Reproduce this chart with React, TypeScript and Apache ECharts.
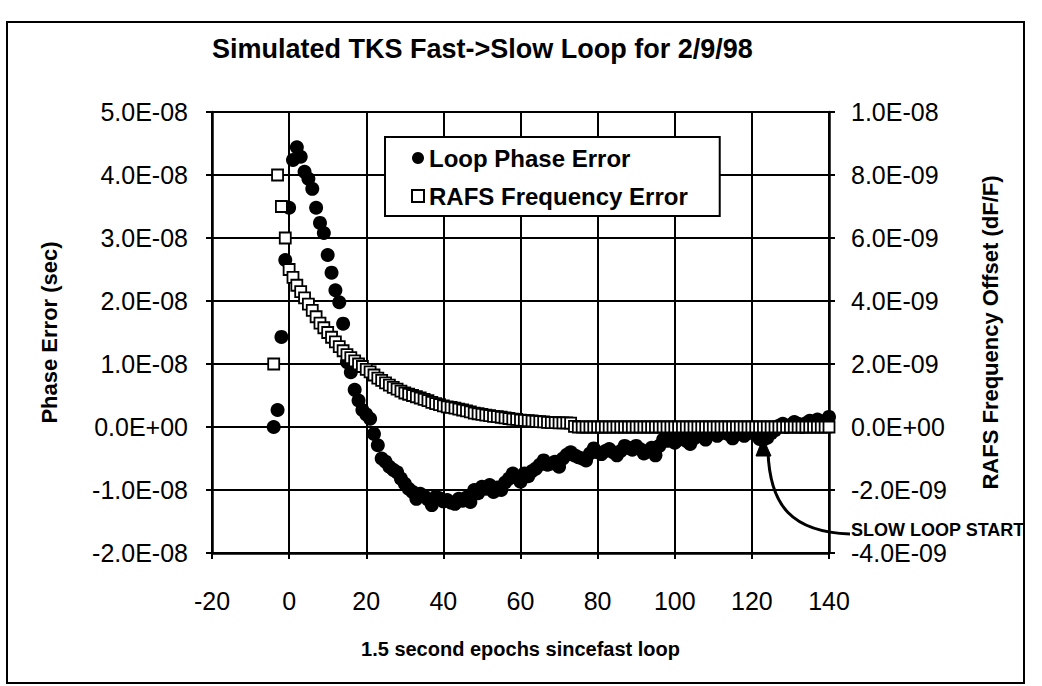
import React, { useEffect, useRef } from 'react';
import * as echarts from 'echarts';

// ---- data ----
const TITLE = 'Simulated TKS Fast->Slow Loop for 2/9/98';
const X_NAME = '1.5 second epochs sincefast loop';
const Y_LEFT_NAME = 'Phase Error (sec)';
const Y_RIGHT_NAME = 'RAFS Frequency Offset (dF/F)';
const SERIES_PHASE = 'Loop Phase Error';
const SERIES_RAFS = 'RAFS Frequency Error';
const ANNOTATION = 'SLOW LOOP START';

// first epoch of both series; one value per epoch
const EPOCH_START = -4;

// Loop phase error, in units of 1e-8 s (epochs -4 .. 140)
const PHASE_ERROR_E8 = [
  0.0, 0.27, 1.43, 2.65, 3.48, 4.24, 4.44, 4.29, 4.05, 3.94,
  3.78, 3.48, 3.24, 3.08, 2.73, 2.45, 2.17, 1.98, 1.64, 1.03,
  0.87, 0.59, 0.42, 0.27, 0.2, 0.13, -0.11, -0.29, -0.5, -0.55,
  -0.63, -0.68, -0.72, -0.82, -0.9, -0.98, -1.03, -1.14, -1.06, -1.1,
  -1.15, -1.24, -1.11, -1.13, -1.18, -1.16, -1.2, -1.22, -1.14, -1.17,
  -1.12, -1.19, -1.0, -1.05, -0.95, -0.98, -0.92, -1.03, -0.96, -1.0,
  -0.88, -0.82, -0.74, -0.8, -0.87, -0.74, -0.78, -0.7, -0.66, -0.6,
  -0.53, -0.6, -0.58, -0.55, -0.63, -0.5, -0.44, -0.4, -0.45, -0.48,
  -0.5, -0.53, -0.42, -0.34, -0.4, -0.43, -0.38, -0.35, -0.4, -0.45,
  -0.38, -0.3, -0.33, -0.36, -0.3, -0.35, -0.42, -0.38, -0.33, -0.45,
  -0.3, -0.2, -0.22, -0.18, -0.25, -0.2, -0.15, -0.22, -0.27, -0.18,
  -0.12, -0.15, -0.2, -0.1, -0.08, -0.14, -0.1, -0.06, -0.12, -0.18,
  -0.1, -0.08, -0.14, -0.1, -0.05, -0.12, -0.19, -0.2, -0.17, -0.1,
  -0.05, 0.02, 0.05, 0.0, 0.03, 0.08, 0.05, 0.0, 0.06, 0.1,
  0.05, 0.12, 0.08, 0.1, 0.16,
];

// RAFS frequency error, in units of 1e-9 (epochs -4 .. 140)
const RAFS_FREQ_E9 = [
  2.0, 8.0, 7.0, 6.0, 5.0, 4.75, 4.5, 4.3, 4.1, 3.9,
  3.7, 3.5, 3.3, 3.15, 3.0, 2.85, 2.7, 2.55, 2.42, 2.3,
  2.2, 2.1, 2.0, 1.92, 1.83, 1.75, 1.65, 1.55, 1.48, 1.4,
  1.33, 1.26, 1.2, 1.14, 1.08, 1.04, 1.0, 0.96, 0.92, 0.88,
  0.84, 0.78, 0.74, 0.71, 0.67, 0.64, 0.62, 0.6, 0.57, 0.54,
  0.51, 0.48, 0.44, 0.42, 0.4, 0.38, 0.36, 0.34, 0.33, 0.31,
  0.29, 0.27, 0.25, 0.24, 0.22, 0.21, 0.2, 0.19, 0.18, 0.17,
  0.16, 0.15, 0.14, 0.14, 0.13, 0.13, 0.13, 0.12, 0.02, 0.0,
  0, 0, 0, 0, 0, 0, 0, 0, 0, 0,
  0, 0, 0, 0, 0, 0, 0, 0, 0, 0,
  0, 0, 0, 0, 0, 0, 0, 0, 0, 0,
  0, 0, 0, 0, 0, 0, 0, 0, 0, 0,
  0, 0, 0, 0, 0, 0, 0, 0, 0, 0,
  0, 0, 0, 0, 0, 0, 0, 0, 0, 0,
  0, 0, 0, 0, 0,
];

const X_AXIS = { min: -20, max: 140, interval: 20 };
const Y_LEFT_AXIS = { min: -2, max: 5, interval: 1, unitExp: -8 };
const Y_RIGHT_AXIS = { min: -4, max: 10, interval: 2, unitExp: -9 };

const FONT = '"Liberation Sans", Arial, Helvetica, sans-serif';

function sci(x: number): string {
  if (Math.abs(x) < 1e-25) return '0.0E+00';
  let e = Math.floor(Math.log10(Math.abs(x)) + 1e-9);
  let ms = (x / Math.pow(10, e)).toFixed(1);
  if (Math.abs(parseFloat(ms)) >= 10) {
    e += 1;
    ms = (x / Math.pow(10, e)).toFixed(1);
  }
  const es = (e < 0 ? '-' : '+') + String(Math.abs(e)).padStart(2, '0');
  return ms + 'E' + es;
}

function labelIn(unitExp: number) {
  return (v: number) => sci(Math.round(v * 1000) / 1000 * Math.pow(10, unitExp));
}

export default function App() {
  const ref = useRef<HTMLDivElement>(null);

  useEffect(() => {
    if (!ref.current) return;
    const chart = echarts.init(ref.current, undefined, { renderer: 'svg' });

    const phaseData = PHASE_ERROR_E8.map((v, i) => [EPOCH_START + i, v]);
    const rafsData = RAFS_FREQ_E9.map((v, i) => [EPOCH_START + i, v]);

    const black = '#000';
    const tick = { show: true, length: 6, lineStyle: { color: black, width: 2 } };
    const labelStyle = { color: black, fontFamily: FONT, fontSize: 25 };
    const nameStyle = { fontFamily: FONT, fontWeight: 'bold', fontSize: 22, color: black };

    chart.setOption({
      animation: false,
      backgroundColor: '#fff',
      title: {
        text: TITLE,
        left: 212,
        top: 35,
        padding: 0,
        textStyle: { fontFamily: FONT, fontWeight: 'bold', fontSize: 27, color: black },
      },
      legend: {
        orient: 'vertical',
        left: 385,
        top: 137,
        padding: [9, 32, 8, 26],
        itemGap: 14,
        itemWidth: 12,
        itemHeight: 12,
        borderColor: black,
        borderWidth: 2,
        backgroundColor: '#fff',
        textStyle: { fontFamily: FONT, fontWeight: 'bold', fontSize: 24, color: black },
        data: [SERIES_PHASE, SERIES_RAFS],
      },
      grid: { left: 212, top: 112, right: 213, bottom: 133 },
      xAxis: {
        type: 'value',
        min: X_AXIS.min,
        max: X_AXIS.max,
        interval: X_AXIS.interval,
        axisLine: { onZero: false, lineStyle: { color: black, width: 2.5 } },
        axisTick: tick,
        axisLabel: { ...labelStyle, margin: 35 },
        splitLine: { show: true, lineStyle: { color: black, width: 2 } },
        name: X_NAME,
        nameLocation: 'middle',
        nameGap: 86,
        nameTextStyle: { ...nameStyle, fontSize: 20 },
      },
      yAxis: [
        {
          type: 'value',
          position: 'left',
          min: Y_LEFT_AXIS.min,
          max: Y_LEFT_AXIS.max,
          interval: Y_LEFT_AXIS.interval,
          axisLine: { show: true, onZero: false, lineStyle: { color: black, width: 2.5 } },
          axisTick: tick,
          axisLabel: { ...labelStyle, margin: 24, formatter: labelIn(Y_LEFT_AXIS.unitExp) },
          splitLine: { show: true, lineStyle: { color: black, width: 2 } },
          name: Y_LEFT_NAME,
          nameLocation: 'middle',
          nameRotate: 90,
          nameGap: 152,
          nameTextStyle: nameStyle,
        },
        {
          type: 'value',
          position: 'right',
          min: Y_RIGHT_AXIS.min,
          max: Y_RIGHT_AXIS.max,
          interval: Y_RIGHT_AXIS.interval,
          axisLine: { show: true, onZero: false, lineStyle: { color: black, width: 2.5 } },
          axisTick: tick,
          axisLabel: { ...labelStyle, margin: 22, formatter: labelIn(Y_RIGHT_AXIS.unitExp) },
          splitLine: { show: false },
          name: Y_RIGHT_NAME,
          nameLocation: 'middle',
          nameRotate: 90,
          nameGap: 150,
          nameTextStyle: nameStyle,
        },
      ],
      series: [
        {
          name: SERIES_PHASE,
          type: 'scatter',
          yAxisIndex: 0,
          symbol: 'circle',
          symbolSize: 14,
          itemStyle: { color: black, opacity: 1 },
          data: phaseData,
          z: 2,
        },
        {
          name: SERIES_RAFS,
          type: 'scatter',
          yAxisIndex: 1,
          symbol: 'rect',
          symbolSize: 11,
          itemStyle: { color: '#fff', borderColor: black, borderWidth: 1.8, opacity: 1 },
          data: rafsData,
          z: 3,
        },
      ],
      graphic: [
        {
          type: 'rect',
          shape: { x: 7, y: 22, width: 1017, height: 661 },
          style: { fill: 'none', stroke: black, lineWidth: 2 },
          silent: true,
          z: -1,
        },
        {
          type: 'bezierCurve',
          shape: { x1: 768, y1: 452, cpx1: 770, cpy1: 506, cpx2: 792, cpy2: 532, x2: 850, y2: 534 },
          style: { fill: 'none', stroke: black, lineWidth: 3 },
          silent: true,
          z: 10,
        },
        {
          type: 'polygon',
          shape: { points: [[763, 438], [756, 456], [771, 456]] },
          style: { fill: black, stroke: black, lineWidth: 1 },
          silent: true,
          z: 10,
        },
        {
          type: 'text',
          x: 851,
          y: 530,
          style: {
            text: ANNOTATION,
            fontFamily: FONT,
            fontWeight: 'bold',
            fontSize: 18,
            fill: black,
            verticalAlign: 'middle',
            align: 'left',
          },
          silent: true,
          z: 10,
        },
      ],
    });

    return () => chart.dispose();
  }, []);

  return (
    <div
      ref={ref}
      style={{ position: 'fixed', left: 0, top: 0, width: 1042, height: 686, background: '#fff' }}
    />
  );
}
